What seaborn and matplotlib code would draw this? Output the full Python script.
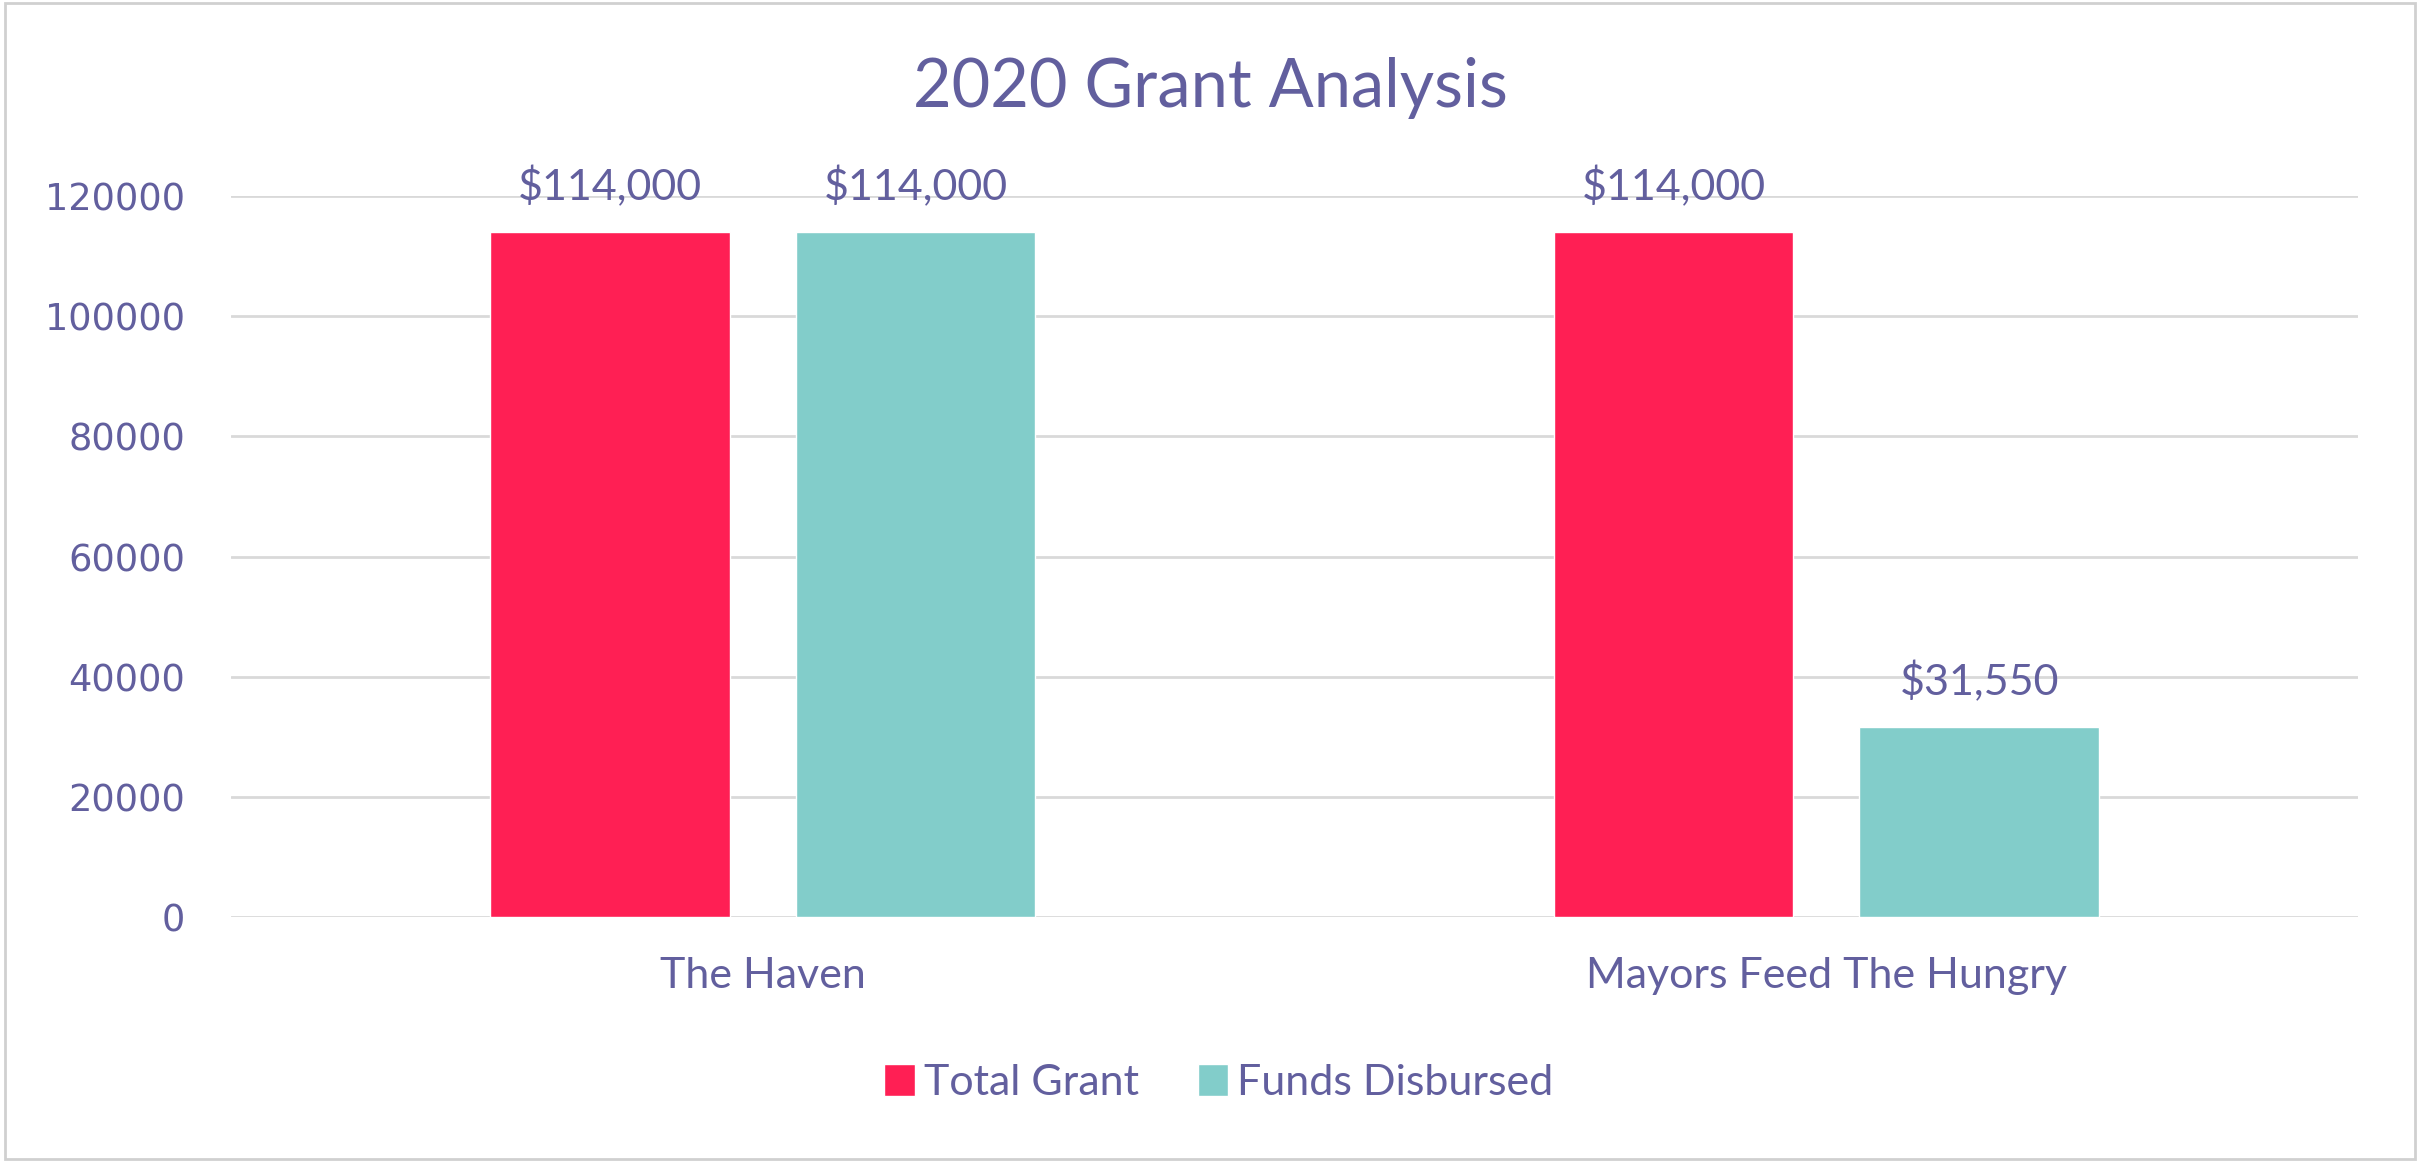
import matplotlib
matplotlib.use("Agg")
import matplotlib.pyplot as plt
import seaborn as sns
import pandas as pd
from matplotlib.patches import Rectangle

categories = ["The Haven", "Mayors Feed The Hungry"]
series_names = ["Total Grant", "Funds Disbursed"]
total_grant = [114000, 114000]
funds_disbursed = [114000, 31550]
y_ticks = [0, 20000, 40000, 60000, 80000, 100000, 120000]

TEXT = "#625F9E"
RED = "#FF1F54"
TEAL = "#82CDCA"
GRID = "#D9D9D9"

rows = []
for c, t, f in zip(categories, total_grant, funds_disbursed):
    rows.append({"category": c, "series": series_names[0], "value": t})
    rows.append({"category": c, "series": series_names[1], "value": f})
df = pd.DataFrame(rows)

sns.set_theme(style="white")
plt.rcParams["font.family"] = ["Lato", "DejaVu Sans"]

fig = plt.figure(figsize=(24.2, 11.62), dpi=100)
ax = fig.add_axes([0.0955, 0.2108, 0.9744 - 0.0955, 0.8313 - 0.2108])

sns.barplot(data=df, x="category", y="value", hue="series",
            palette=[RED, TEAL], width=0.575, gap=0.217,
            saturation=1, ax=ax, legend=True)

ax.set_ylim(0, 120000)
ax.set_xlim(-0.5, 1.5)
ax.set_yticks(y_ticks)
ax.set_yticklabels([str(v) for v in y_ticks], family="DejaVu Sans",
                   fontsize=26.5, color=TEXT)
ax.tick_params(axis="y", length=0, pad=33)
ax.tick_params(axis="x", length=0, pad=29, labelsize=31, labelcolor=TEXT)
for lbl in ax.get_xticklabels():
    lbl.set_family(["Lato", "DejaVu Sans"])
ax.set_xlabel("")
ax.set_ylabel("")
ax.yaxis.grid(True, color=GRID, linewidth=2)
ax.set_axisbelow(True)
for s in ax.spines.values():
    s.set_visible(False)

for cont in ax.containers:
    ax.bar_label(cont, labels=[f"${v:,.0f}" for v in cont.datavalues],
                 padding=18, fontsize=31, color=TEXT, clip_on=False)

ax.legend(loc="center", bbox_to_anchor=(1219 / 2420, 1 - 1083 / 1162),
          bbox_transform=fig.transFigure, ncol=2, frameon=False,
          fontsize=31, labelcolor=TEXT, handlelength=0.70, handleheight=0.74,
          handletextpad=0.22, columnspacing=1.36)

fig.text(0.5, 1 - 88 / 1162, "2020 Grant Analysis", ha="center", va="center",
         fontsize=48, color=TEXT)

fig.patches.append(Rectangle((0.002, 0.003), 0.996, 0.994, transform=fig.transFigure,
                             fill=False, edgecolor="#D0D0D0", linewidth=2))

fig.savefig("out.png", dpi=100, facecolor="white")
